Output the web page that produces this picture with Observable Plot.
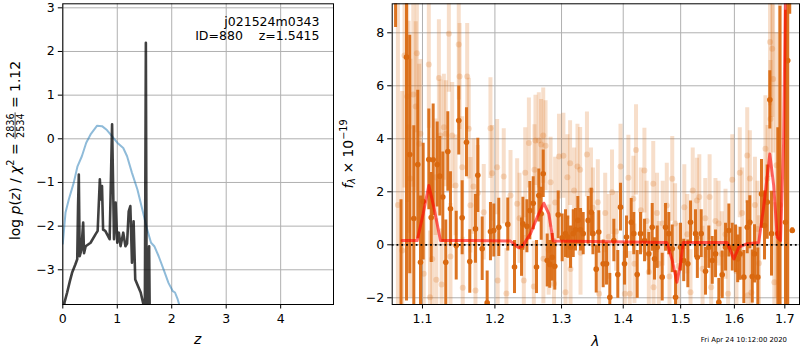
<!DOCTYPE html>
<html><head><meta charset="utf-8">
<script src="https://cdn.jsdelivr.net/npm/d3@7"></script>
<script src="https://cdn.jsdelivr.net/npm/@observablehq/plot@0.6"></script>
<style>
body{margin:0;background:#fff;}
#wrap{position:relative;width:800px;height:350px;overflow:hidden;background:#fff;}
#wrap svg{position:absolute;top:0;}
</style></head><body><div id="wrap"></div>
<script>
// ---------- left panel: log p(z) ----------
const priorZ   = [0, 0.05, 0.11, 0.20, 0.27, 0.35, 0.43, 0.51, 0.63, 0.72, 0.81, 0.91, 1.00, 1.11, 1.18, 1.27, 1.37, 1.46, 1.55, 1.62, 1.68, 1.76, 1.85, 1.94, 2.02, 2.06, 2.11, 2.15];
const priorLog = [-2.40, -1.69, -1.39, -1.01, -0.63, -0.40, -0.09, 0.10, 0.30, 0.29, 0.20, 0.05, -0.09, -0.21, -0.40, -0.78, -1.16, -1.62, -2.08, -2.38, -2.46, -2.69, -2.99, -3.30, -3.49, -3.52, -3.68, -3.85];
const pzZ   = [0.00, 0.03, 0.08, 0.13, 0.17, 0.23, 0.265, 0.28, 0.294, 0.31, 0.34, 0.374, 0.39, 0.42, 0.51, 0.60, 0.64, 0.68, 0.70, 0.72, 0.74, 0.78, 0.86, 0.905, 0.94, 0.97, 1.00, 1.03, 1.06, 1.11, 1.15, 1.18, 1.21, 1.24, 1.27, 1.30, 1.33, 1.43, 1.48, 1.50, 1.525, 1.545, 1.585, 1.61, 1.70];
const pzLog = [-6.0, -3.75, -3.52, -3.26, -3.07, -2.88, -2.76, -1.54, -0.82, -2.69, -2.55, -1.92, -2.62, -2.46, -2.38, -2.19, -2.11, -0.93, -1.39, -1.08, -2.08, -2.11, -2.30, 0.33, -2.30, -1.46, -2.38, -2.15, -2.46, -2.15, -2.46, -2.40, -1.66, -1.54, -2.84, -1.89, -3.22, -3.52, -3.79, -6.0, 2.20, -6.0, -2.46, -6.0, -6.0];
const zTicks = [0, 1, 2, 3, 4];
const logTicks = [-3, -2, -1, 0, 1, 2, 3];
const fieldName = "j021524m0343";
const fitInfo = "ID=880\u00a0\u00a0\u00a0\u00a0z=1.5415";

// ---------- right panel: spectrum ----------
const darkLam = [
 1.0650, 1.0720, 1.0791, 1.0833, 1.0886, 1.0938, 1.0974, 1.1009, 1.1084, 1.1116,
 1.1142, 1.1196, 1.1231, 1.1272, 1.1312, 1.1340, 1.1376, 1.1455, 1.1490, 1.1537,
 1.1597, 1.1643, 1.1723, 1.1756, 1.1818, 1.1889, 1.1936, 1.1984, 1.2056, 1.2187,
 1.2286, 1.2390, 1.2410, 1.2470, 1.2514, 1.2565, 1.2615, 1.2650, 1.2686, 1.2717,
 1.2778, 1.2817, 1.2855, 1.2895, 1.2948, 1.3010, 1.3062, 1.3098, 1.3141, 1.3184,
 1.3220, 1.3257, 1.3300, 1.3343, 1.3423, 1.3472, 1.3500, 1.3553, 1.3595, 1.3667,
 1.3722, 1.3776, 1.3843, 1.3909, 1.3954, 1.4022, 1.4055, 1.4135, 1.4179, 1.4237,
 1.4294, 1.4363, 1.4437, 1.4496, 1.4536, 1.4583, 1.4671, 1.4730, 1.4788, 1.4849,
 1.4908, 1.4998, 1.5055, 1.5130, 1.5179, 1.5270, 1.5304, 1.5375, 1.5455, 1.5516,
 1.5580, 1.5642, 1.5704, 1.5768, 1.5831, 1.5894, 1.5959, 1.6022, 1.6064, 1.6110,
 1.6183, 1.6249, 1.6300, 1.6347, 1.6392, 1.6457, 1.6530, 1.6590, 1.6644, 1.6696,
 1.6730, 1.6857, 1.6900, 1.7014, 1.7059, 1.7100, 1.7152];
const darkFlux = [
 12.0, -3.5, 7.08, 3.41, 0.99, 3.03, -0.66, 1.63, 3.22, 1.03,
 3.21, 3.03, 2.59, 1.80, -0.66, 3.52, 1.36, -0.03, 4.69, 1.02,
 3.87, -0.63, 0.60, 2.62, -0.15, -2.19, 0.50, 0.54, 0.66, 0.77,
 -0.84, -0.09, 0.79, 0.70, 1.29, 1.57, -0.84, 1.86, 1.17, 2.68,
 -0.59, -0.74, -0.47, -0.81, 1.13, 0.26, 0.42, 0.29, -0.09, 0.42,
 0.57, 0.92, 0.57, 0.42, 0.92, 1.23, 0.42, -0.92, 0.48, -0.72,
 -0.72, -1.98, 0.16, -1.12, 1.42, -0.72, 0.29, 0.85, 0.42, -1.12,
 0.42, 0.16, -0.34, 0.66, -0.53, -0.09, -1.22, 0.66, 0.42, -0.15,
 -1.98, -0.09, -0.59, -0.72, 0.85, 0.42, -0.47, 0.42, -1.00, -0.09,
 -0.59, -0.34, -2.17, -1.13, -0.09, 0.54, -0.09, -0.15, -0.53, -0.34,
 -1.22, 0.66, 0.85, -1.20, -0.34, -1.22, 1.92, 0.73, 1.61, 5.47,
 0.42, 0.42, -3.0, 0.85, 6.95, 11.0, 0.54];
const darkErr = [
 3.8, 5.2, 9.2, 4.5, 3.5, 2.8, 2.5, 2.2, 1.9, 1.7,
 2.1, 1.6, 1.5, 1.7, 1.6, 1.5, 1.4, 1.3, 1.3, 1.4,
 1.3, 1.2, 1.3, 1.4, 1.2, 1.2, 1.1, 1.0, 1.1, 1.0,
 1.0, 1.1, 1.0, 1.0, 1.1, 1.0, 1.0, 1.0, 1.0, 0.9,
 1.0, 0.9, 0.9, 0.9, 0.9, 0.9, 0.9, 0.8, 0.8, 0.9,
 0.8, 0.9, 0.8, 0.8, 0.9, 0.9, 0.8, 0.9, 0.8, 0.9,
 0.8, 0.9, 0.8, 0.9, 0.9, 0.8, 0.8, 0.9, 0.8, 0.9,
 0.8, 0.8, 0.8, 0.9, 0.8, 0.8, 0.9, 0.9, 0.8, 0.9,
 1.0, 0.9, 0.8, 0.9, 0.8, 0.9, 0.8, 0.9, 0.9, 0.8,
 0.9, 0.9, 0.9, 0.9, 0.9, 1.0, 0.9, 0.9, 0.9, 1.0,
 1.0, 1.0, 1.0, 1.0, 1.1, 1.1, 1.3, 1.3, 1.4, 1.1,
 1.6, 4.0, 12.0, 8.0, 10.0, 2.3, 0.1];

const lightLam = [
 1.0680, 1.0735, 1.0765, 1.0800, 1.0818, 1.0841, 1.0879, 1.0911, 1.0926, 1.0957,
 1.0974, 1.1017, 1.1084, 1.1100, 1.1130, 1.1174, 1.1184, 1.1219, 1.1240, 1.1255,
 1.1286, 1.1312, 1.1354, 1.1376, 1.1400, 1.1446, 1.1490, 1.1501, 1.1537, 1.1545,
 1.1607, 1.1629, 1.1652, 1.1695, 1.1723, 1.1756, 1.1840, 1.1936, 1.1960, 1.2032,
 1.2040, 1.2128, 1.2167, 1.2227, 1.2325, 1.2360, 1.2424, 1.2445, 1.2500, 1.2574,
 1.2584, 1.2599, 1.2650, 1.2686, 1.2717, 1.2720, 1.2753, 1.2800, 1.2830, 1.2882,
 1.2900, 1.2960, 1.3029, 1.3062, 1.3092, 1.3134, 1.3141, 1.3198, 1.3251, 1.3294,
 1.3300, 1.3403, 1.3468, 1.3500, 1.3579, 1.3600, 1.3700, 1.3760, 1.3813, 1.3880,
 1.3954, 1.4027, 1.4087, 1.4110, 1.4172, 1.4190, 1.4217, 1.4300, 1.4361, 1.4400,
 1.4437, 1.4514, 1.4520, 1.4580, 1.4611, 1.4680, 1.4752, 1.4800, 1.4849, 1.4900,
 1.4960, 1.5066, 1.5120, 1.5179, 1.5219, 1.5295, 1.5340, 1.5400, 1.5450, 1.5531,
 1.5560, 1.5640, 1.5700, 1.5760, 1.5830, 1.5880, 1.5959, 1.6040, 1.6104, 1.6150,
 1.6249, 1.6260, 1.6300, 1.6330, 1.6400, 1.6450, 1.6480, 1.6608, 1.6650, 1.6700,
 1.6710, 1.6744, 1.6762, 1.6786, 1.6830, 1.6900];
const lightFlux = [
 1.5, -0.22, 7.14, 5.6, 4.44, 2.50, 5.67, 5.22, 7.23, 3.81,
 4.19, -1.09, 6.80, -1.98, -0.54, 2.55, -1.32, 6.29, 4.12, -1.50,
 4.44, 4.19, 7.96, -0.44, 4.12, 2.24, 7.56, 6.35, 2.93, -1.62,
 6.35, 4.38, 1.49, 2.20, -1.72, 1.95, 1.23, 4.40, 2.70, 2.93,
 -1.35, 2.58, -1.84, 1.86, 1.55, 1.00, -1.35, 2.72, 3.84, -1.57,
 2.83, 3.94, 3.94, 3.78, 4.12, -0.53, 3.74, -0.20, 2.36, -1.47,
 1.60, 3.33, 3.36, -1.79, 2.55, 3.08, -0.91, 2.05, 2.95, 2.83,
 -0.30, 3.41, 2.05, 1.40, 1.61, -1.85, 1.20, 0.30, 1.98, 0.50,
 2.95, -1.85, 2.53, -1.85, 1.74, -0.72, 3.58, 1.30, 2.80, 0.90,
 -1.03, 2.30, -1.60, 1.20, -0.72, 0.80, 1.48, -1.20, 2.49, 0.80,
 -0.80, 1.42, 0.40, -1.79, 2.05, 1.67, 1.80, -0.90, 1.00, 1.80,
 -1.60, 0.90, 0.80, -0.35, 0.40, -1.85, 2.45, -1.00, 2.72, 1.20,
 3.37, -1.90, 2.50, -1.80, 1.50, 0.60, -0.70, 3.62, 2.50, 7.65,
 4.75, 7.40, 6.26, -1.41, 3.00, 1.50];
const lightErr = [
 8.0, 6.0, 5.0, 4.0, 4.0, 4.5, 3.5, 3.2, 3.0, 3.0,
 2.8, 2.6, 2.4, 2.5, 2.4, 2.2, 2.3, 2.2, 2.1, 2.1,
 2.0, 2.0, 2.2, 2.0, 2.0, 1.9, 2.1, 2.0, 1.9, 1.9,
 2.0, 1.9, 1.8, 1.8, 1.8, 1.8, 1.8, 1.9, 1.8, 1.8,
 1.8, 1.8, 1.7, 1.7, 1.7, 1.7, 1.7, 1.7, 1.7, 1.7,
 1.7, 1.7, 1.8, 1.7, 1.8, 1.7, 1.7, 1.7, 1.7, 1.7,
 1.7, 1.6, 1.6, 1.7, 1.6, 1.6, 1.6, 1.6, 1.6, 1.6,
 1.6, 1.6, 1.6, 1.5, 1.6, 1.6, 1.5, 1.6, 1.6, 1.5,
 1.6, 1.6, 1.6, 1.6, 1.6, 1.5, 1.7, 1.6, 1.6, 1.5,
 1.6, 1.6, 1.6, 1.5, 1.6, 1.6, 1.6, 1.6, 1.6, 1.5,
 1.6, 1.6, 1.5, 1.6, 1.6, 1.6, 1.6, 1.6, 1.5, 1.6,
 1.6, 1.6, 1.6, 1.6, 1.7, 1.7, 1.7, 1.7, 1.7, 1.7,
 1.8, 1.8, 1.8, 1.8, 1.8, 1.8, 1.8, 2.0, 2.0, 2.4,
 2.2, 2.6, 2.8, 3.0, 5.0, 8.0];

const modelLam  = [1.0735, 1.0930, 1.1009, 1.1084, 1.1151, 1.1240, 1.1652, 1.2227, 1.2349, 1.2405, 1.2524, 1.2625, 1.2726, 1.2803, 1.2869, 1.4752, 1.4849, 1.4932, 1.4998, 1.5046, 1.5860, 1.5990, 1.6086, 1.6249, 1.6475, 1.6572, 1.6696, 1.6773, 1.6845, 1.6912, 1.6974, 1.7030];
const modelFlux = [0.16, 0.16, 1.17, 2.24, 1.42, 0.16, 0.16, 0.14, -0.11, -0.05, 0.42, 1.04, 1.57, 1.17, 0.14, 0.09, -0.59, -1.41, -0.72, 0.09, 0.09, -0.53, -0.09, 0.04, 0.09, 1.42, 3.43, 2.24, 0.29, 0.16, 3.81, 12.0];
const lamTicks  = [1.1, 1.2, 1.3, 1.4, 1.5, 1.6, 1.7];
const fluxTicks = [-2, 0, 2, 4, 6, 8];
const timestamp = "Fri Apr 24 10:12:00 2020";

// ---------- build ----------
const FONT = "DejaVu Sans";
const ORANGE = "#d9680f";
const GRID = "#b0b0b0";
const fmt = d => (d < 0 ? "\u2212" : "") + Math.abs(d);
const prior = priorZ.map((z, i) => ({z, v: priorLog[i]}));
const pz = pzZ.map((z, i) => ({z, v: pzLog[i]}));
const dark = darkLam.map((l, i) => ({l, f: darkFlux[i], e: darkErr[i]}));
const light = lightLam.map((l, i) => ({l, f: lightFlux[i], e: lightErr[i]}));
const model = modelLam.map((l, i) => ({l, f: modelFlux[i]}));

const baseStyle = {fontFamily: FONT, fontSize: "12.5px", color: "black", background: "transparent", overflow: "visible"};

const svgL = Plot.plot({
  width: 340, height: 350,
  marginLeft: 62.3, marginRight: 7, marginTop: 3.3, marginBottom: 46,
  style: baseStyle,
  x: {domain: [0, 4.97]},
  y: {domain: [-3.795, 3.092]},
  marks: [
    Plot.gridX(zTicks, {stroke: GRID, strokeOpacity: 1, strokeWidth: 1}),
    Plot.gridY(logTicks, {stroke: GRID, strokeOpacity: 1, strokeWidth: 1}),
    Plot.line(prior, {x: "z", y: "v", stroke: "#1f77b4", strokeOpacity: 0.5, strokeWidth: 2, clip: true}),
    Plot.line(pz, {x: "z", y: "v", stroke: "#000", strokeOpacity: 0.75, strokeWidth: 2.6, clip: true}),
    Plot.axisX({ticks: zTicks, tickSize: 4.5, tickPadding: 5, tickFormat: fmt, label: null}),
    Plot.axisY({ticks: logTicks, tickSize: 4.5, tickPadding: 3.5, tickFormat: fmt, label: null}),
    Plot.frame({stroke: "black", strokeWidth: 1}),
    Plot.text([fieldName], {text: d => d, frameAnchor: "top-right", lineAnchor: "bottom", textAnchor: "end", dx: -14, dy: 22.4, fontSize: 12.5, fill: "black"}),
    Plot.text([fitInfo], {text: d => d, frameAnchor: "top-right", lineAnchor: "bottom", textAnchor: "end", dx: -14, dy: 36, fontSize: 12.5, fill: "black"})
  ]
});

const svgR = Plot.plot({
  width: 460, height: 350,
  marginLeft: 51.7, marginRight: 1, marginTop: 3.3, marginBottom: 46,
  style: baseStyle,
  x: {type: "log", domain: [1.0607, 1.7302]},
  y: {domain: [-2.253, 9.094]},
  marks: [
    Plot.gridX(lamTicks, {stroke: GRID, strokeOpacity: 1, strokeWidth: 1}),
    Plot.gridY(fluxTicks, {stroke: GRID, strokeOpacity: 1, strokeWidth: 1}),
    Plot.ruleX(light, {x: "l", y1: d => d.f - d.e, y2: d => d.f + d.e, stroke: ORANGE, strokeOpacity: 0.22, strokeWidth: 4, clip: true}),
    Plot.dot(light, {x: "l", y: "f", r: 3, fill: ORANGE, fillOpacity: 0.22, clip: true}),
    Plot.ruleX(dark, {x: "l", y1: d => d.f - d.e, y2: d => d.f + d.e, stroke: ORANGE, strokeOpacity: 0.92, strokeWidth: 3, clip: true}),
    Plot.dot(dark, {x: "l", y: "f", r: 2.8, fill: ORANGE, clip: true}),
    Plot.line(model, {x: "l", y: "f", stroke: "red", strokeOpacity: 0.6, strokeWidth: 3, clip: true}),
    Plot.ruleY([0], {stroke: "black", strokeWidth: 1.8, strokeDasharray: "1.8,3"}),
    Plot.axisX({ticks: lamTicks, tickSize: 4.5, tickPadding: 5, tickFormat: d => d.toFixed(1), label: null}),
    Plot.axisY({ticks: fluxTicks, tickSize: 4.5, tickPadding: 3.5, tickFormat: fmt, label: null}),
    Plot.frame({stroke: "black", strokeWidth: 1})
  ]
});

const wrap = document.getElementById("wrap");
svgL.style.left = "0px";
svgR.style.left = "340px";
wrap.appendChild(svgL);
wrap.appendChild(svgR);

// ----- axis labels (text) -----
const LS = 13.9, SS = 9.7;
const gL = d3.select(svgL).append("g")
  .attr("transform", "translate(19.5,240) rotate(-90)")
  .attr("font-family", FONT).attr("font-size", LS).attr("fill", "black")
  .attr("text-anchor", "start");
const p1 = gL.append("text").attr("x", 0).attr("y", 0).attr("text-anchor", "start");
p1.append("tspan").text("log\u00a0");
p1.append("tspan").attr("font-style", "italic").text("p");
p1.append("tspan").text("(");
p1.append("tspan").attr("font-style", "italic").text("z");
p1.append("tspan").text(")\u00a0/\u00a0");
p1.append("tspan").attr("font-style", "italic").text("\u03c7");
p1.append("tspan").attr("font-size", SS).attr("dy", -5.5).text("2");
p1.append("tspan").attr("dy", 5.5).text("\u00a0=\u00a0");
const w1 = p1.node().getComputedTextLength();
const num = gL.append("text").attr("font-size", SS).attr("text-anchor", "middle").text("2836");
const den = gL.append("text").attr("font-size", SS).attr("text-anchor", "middle").text("2534");
const fw = Math.max(num.node().getComputedTextLength(), den.node().getComputedTextLength()) + 2;
const cx = w1 + fw / 2;
num.attr("x", cx).attr("y", -5.4);
den.attr("x", cx).attr("y", 4.0);
gL.append("line").attr("x1", w1).attr("x2", w1 + fw).attr("y1", -4.4).attr("y2", -4.4)
  .attr("stroke", "black").attr("stroke-width", 0.7);
gL.append("text").attr("x", w1 + fw).attr("y", 0).attr("text-anchor", "start").text("\u00a0=\u00a01.12");

d3.select(svgL).append("text").attr("x", 197.6).attr("y", 343.5)
  .attr("font-family", FONT).attr("font-size", LS).attr("font-style", "italic")
  .attr("text-anchor", "middle").attr("fill", "black").text("z");

const gR = d3.select(svgR).append("g")
  .attr("transform", "translate(12.5,154) rotate(-90)")
  .attr("font-family", FONT).attr("font-size", LS).attr("fill", "black");
const tR = gR.append("text").attr("text-anchor", "middle");
tR.append("tspan").attr("font-style", "italic").text("f");
tR.append("tspan").attr("font-style", "italic").attr("font-size", SS).attr("dy", 2.5).text("\u03bb");
tR.append("tspan").attr("dy", -2.5).text("\u00a0\u00d7\u00a010");
tR.append("tspan").attr("font-size", SS).attr("dy", -5.5).text("\u221219");

d3.select(svgR).append("text").attr("x", 595.3 - 340).attr("y", 345.5)
  .attr("font-family", FONT).attr("font-size", LS).attr("font-style", "italic")
  .attr("text-anchor", "middle").attr("fill", "black").text("\u03bb");

d3.select(svgR).append("text").attr("x", 787 - 340).attr("y", 341.5)
  .attr("font-family", FONT).attr("font-size", 6.9)
  .attr("text-anchor", "end").attr("fill", "black").text(timestamp);
</script>
</body></html>
